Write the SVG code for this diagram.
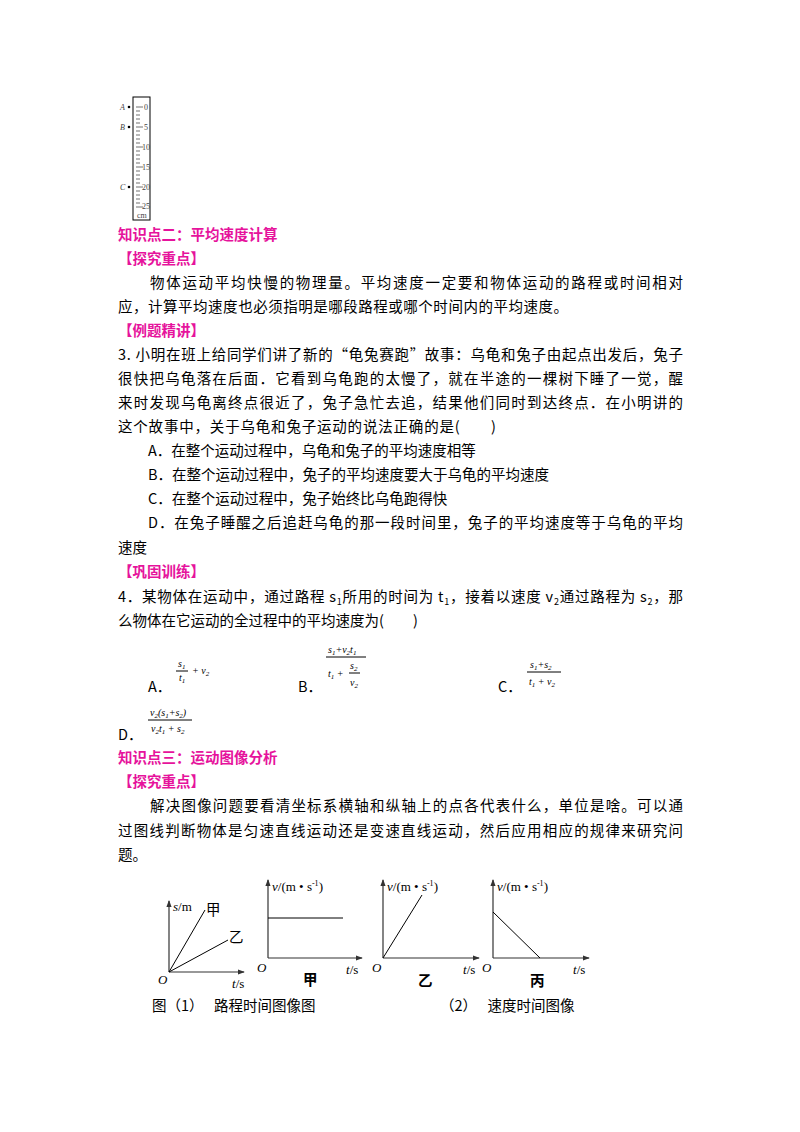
<svg xmlns="http://www.w3.org/2000/svg" width="800" height="1132" viewBox="0 0 800 1132">
<style>
text{font-family:"Noto Sans CJK SC","Liberation Serif",serif;fill:#000}
.t{font-size:14.5px}
.h{font-size:14.5px;font-weight:bold;fill:#e6139c}
.m{font-family:"Liberation Serif",serif;font-style:italic;font-size:10px}
.r{font-family:"Liberation Serif",serif;font-size:8px;fill:#444}
.g{font-family:"Liberation Serif",serif;font-size:13px}
.ln{stroke:#000;stroke-width:1;fill:none}
.ax{stroke:#333;stroke-width:1.2;fill:none}
</style>
<defs><marker id="ar" viewBox="0 0 8 8" refX="7" refY="4" markerWidth="6" markerHeight="6" orient="auto"><path d="M0,1 L8,4 L0,7z" fill="#333"/></marker></defs>
<g id="ruler">
<rect x="133" y="97" width="17" height="123" class="ln" stroke="#777"/>
<g stroke="#333" stroke-width="0.7">
<path d="M136,107h7M136,111h4M136,115h4M136,119h4M136,123h4M136,127h7M136,131h4M136,135h4M136,139h4M136,143h4M136,147h7M136,151h4M136,155h4M136,159h4M136,163h4M136,167h7M136,171h4M136,175h4M136,179h4M136,183h4M136,187h7M136,191h4M136,195h4M136,199h4M136,203h4M136,207h7"/>
</g>
<text class="r" x="144" y="110">0</text><text class="r" x="144" y="130">5</text><text class="r" x="142" y="150">10</text><text class="r" x="142" y="170">15</text><text class="r" x="142" y="190">20</text><text class="r" x="142" y="209">25</text><text class="r" x="137" y="218" font-size="7">cm</text>
<text class="r" x="120" y="110" font-style="italic">A</text><circle cx="129" cy="107" r="1.3"/>
<text class="r" x="120" y="130" font-style="italic">B</text><circle cx="129" cy="127" r="1.3"/>
<text class="r" x="120" y="190" font-style="italic">C</text><circle cx="129" cy="187" r="1.3"/>
</g>
<g id="text">
<text class="h" x="118" y="240">知识点二：平均速度计算</text>
<text class="h" x="118" y="264">【探究重点】</text>
<text class="t" x="150" y="288" textLength="533">物体运动平均快慢的物理量。平均速度一定要和物体运动的路程或时间相对</text>
<text class="t" x="118" y="312" textLength="450">应，计算平均速度也必须指明是哪段路程或哪个时间内的平均速度。</text>
<text class="h" x="118" y="336">【例题精讲】</text>
<text class="t" x="118" y="360" textLength="565">3. 小明在班上给同学们讲了新的“龟兔赛跑”故事：乌龟和兔子由起点出发后，兔子</text>
<text class="t" x="118" y="384" textLength="565">很快把乌龟落在后面．它看到乌龟跑的太慢了，就在半途的一棵树下睡了一觉，醒</text>
<text class="t" x="118" y="408" textLength="565">来时发现乌龟离终点很近了，兔子急忙去追，结果他们同时到达终点．在小明讲的</text>
<text class="t" x="118" y="432" textLength="378">这个故事中，关于乌龟和兔子运动的说法正确的是(　　)</text>
<text class="t" x="148" y="456">A．在整个运动过程中，乌龟和兔子的平均速度相等</text>
<text class="t" x="148" y="480">B．在整个运动过程中，兔子的平均速度要大于乌龟的平均速度</text>
<text class="t" x="148" y="504">C．在整个运动过程中，兔子始终比乌龟跑得快</text>
<text class="t" x="148" y="528" textLength="535">D．在兔子睡醒之后追赶乌龟的那一段时间里，兔子的平均速度等于乌龟的平均</text>
<text class="t" x="118" y="553">速度</text>
<text class="h" x="118" y="577">【巩固训练】</text>
<text class="t" x="118" y="602" textLength="565">4．某物体在运动中，通过路程 s<tspan font-size="9" dy="3">1</tspan><tspan dy="-3">所用的时间为 t</tspan><tspan font-size="9" dy="3">1</tspan><tspan dy="-3">，接着以速度 v</tspan><tspan font-size="9" dy="3">2</tspan><tspan dy="-3">通过路程为 s</tspan><tspan font-size="9" dy="3">2</tspan><tspan dy="-3">，那</tspan></text>
<text class="t" x="118" y="626">么物体在它运动的全过程中的平均速度为(　　)</text>
<text class="t" x="148" y="692">A．</text>
<text class="m" x="178" y="667">s<tspan font-size="7" dy="2">1</tspan></text><path class="ln" d="M176,671h12" stroke-width="0.6"/><text class="m" x="179" y="681">t<tspan font-size="7" dy="2">1</tspan></text><text class="m" x="192" y="674">+ v<tspan font-size="7" dy="2">2</tspan></text>
<text class="t" x="298" y="692">B．</text>
<text class="m" x="328" y="653">s<tspan font-size="7" dy="2">1</tspan><tspan dy="-2">+v</tspan><tspan font-size="7" dy="2">2</tspan><tspan dy="-2">t</tspan><tspan font-size="7" dy="2">1</tspan></text><path class="ln" d="M326,657h40" stroke-width="0.6"/>
<text class="m" x="328" y="677">t<tspan font-size="7" dy="2">1</tspan><tspan dy="-2"> +</tspan></text><text class="m" x="350" y="669">s<tspan font-size="7" dy="2">2</tspan></text><path class="ln" d="M349,673h11" stroke-width="0.5"/><text class="m" x="350" y="686">v<tspan font-size="7" dy="2">2</tspan></text>
<text class="t" x="498" y="692">C．</text>
<text class="m" x="530" y="668">s<tspan font-size="7" dy="2">1</tspan><tspan dy="-2">+s</tspan><tspan font-size="7" dy="2">2</tspan></text><path class="ln" d="M527,672h34" stroke-width="0.6"/><text class="m" x="529" y="685">t<tspan font-size="7" dy="2">1</tspan><tspan dy="-2"> + v</tspan><tspan font-size="7" dy="2">2</tspan></text>
<text class="t" x="118" y="740">D．</text>
<text class="m" x="150" y="716">v<tspan font-size="7" dy="2">2</tspan><tspan dy="-2">(s</tspan><tspan font-size="7" dy="2">1</tspan><tspan dy="-2">+s</tspan><tspan font-size="7" dy="2">2</tspan><tspan dy="-2">)</tspan></text><path class="ln" d="M148,720h44" stroke-width="0.6"/><text class="m" x="151" y="732">v<tspan font-size="7" dy="2">2</tspan><tspan dy="-2">t</tspan><tspan font-size="7" dy="2">1</tspan><tspan dy="-2"> + s</tspan><tspan font-size="7" dy="2">2</tspan></text>
<text class="h" x="118" y="763">知识点三：运动图像分析</text>
<text class="h" x="118" y="787">【探究重点】</text>
<text class="t" x="150" y="811" textLength="533">解决图像问题要看清坐标系横轴和纵轴上的点各代表什么，单位是啥。可以通</text>
<text class="t" x="118" y="836" textLength="565">过图线判断物体是匀速直线运动还是变速直线运动，然后应用相应的规律来研究问</text>
<text class="t" x="118" y="860">题。</text>
</g>
<g id="graphs">
<path class="ax" d="M169,972V901" marker-end="url(#ar)"/><path class="ax" d="M169,972H244" marker-end="url(#ar)"/>
<path class="ln" d="M169,972L205,910M169,972L228,940"/>
<text class="g" x="173" y="911"><tspan font-style="italic">s</tspan>/m</text><text class="t" x="206" y="915" font-size="13">甲</text><text class="t" x="229" y="942" font-size="13">乙</text>
<text class="g" x="158" y="984" font-style="italic">O</text><text class="g" x="232" y="988"><tspan font-style="italic">t</tspan>/s</text>
<path class="ax" d="M268,958V880" marker-end="url(#ar)"/><path class="ax" d="M268,958H362" marker-end="url(#ar)"/>
<path class="ln" d="M268,918H343"/>
<text class="g" x="272" y="891"><tspan font-style="italic">v</tspan>/(m • s<tspan font-size="8" dy="-5">-1</tspan><tspan dy="5">)</tspan></text>
<text class="g" x="257" y="972" font-style="italic">O</text><text class="g" x="346" y="974"><tspan font-style="italic">t</tspan>/s</text><text class="t" x="303" y="985" font-size="14" font-weight="bold">甲</text>
<path class="ax" d="M383,958V880" marker-end="url(#ar)"/><path class="ax" d="M383,958H479" marker-end="url(#ar)"/>
<path class="ln" d="M383,958L422,895"/>
<text class="g" x="387" y="891"><tspan font-style="italic">v</tspan>/(m • s<tspan font-size="8" dy="-5">-1</tspan><tspan dy="5">)</tspan></text>
<text class="g" x="372" y="972" font-style="italic">O</text><text class="g" x="463" y="974"><tspan font-style="italic">t</tspan>/s</text><text class="t" x="418" y="986" font-size="14" font-weight="bold">乙</text>
<path class="ax" d="M493,958V880" marker-end="url(#ar)"/><path class="ax" d="M493,958H589" marker-end="url(#ar)"/>
<path class="ln" d="M493,912L540,958"/>
<text class="g" x="497" y="891"><tspan font-style="italic">v</tspan>/(m • s<tspan font-size="8" dy="-5">-1</tspan><tspan dy="5">)</tspan></text>
<text class="g" x="482" y="972" font-style="italic">O</text><text class="g" x="573" y="974"><tspan font-style="italic">t</tspan>/s</text><text class="t" x="530" y="986" font-size="14" font-weight="bold">丙</text>
<text class="t" x="152" y="1011" font-size="12.5">图（1）　 路程时间图像图</text>
<text class="t" x="440" y="1011" font-size="12.5">（2）　 速度时间图像</text>
</g>
</svg>
